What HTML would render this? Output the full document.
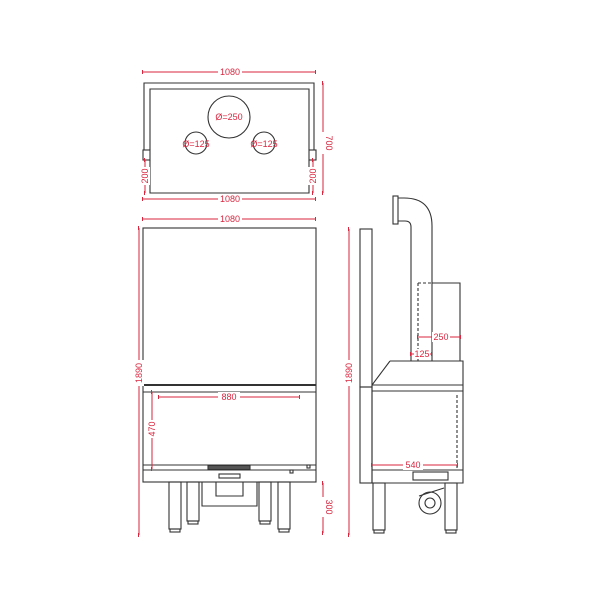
<!DOCTYPE html>
<html><head><style>body{margin:0;background:#fff}svg{display:block}</style></head><body>
<svg width="600" height="600" viewBox="0 0 600 600" xmlns="http://www.w3.org/2000/svg">
<defs><marker id="t" markerWidth="2" markerHeight="4" refX="1" refY="2"><rect x="0" y="0" width="1" height="4" fill="#d9263f"/></marker></defs>
<g fill="none" stroke="#333" stroke-width="1.1">
<!-- top view -->
<path d="M144 150 V83 H314 V150"/>
<path d="M150 150 V89 H309 V150"/>
<rect x="143" y="150" width="7" height="10"/><rect x="309" y="150" width="7" height="10"/>
<path d="M150 160 V193 H309 V160"/>
<circle cx="229" cy="117" r="21"/><circle cx="196" cy="143" r="11"/><circle cx="264" cy="143" r="11"/>
<!-- front view -->
<rect x="143" y="228" width="173" height="254"/>
<line x1="143" y1="385" x2="316" y2="385" stroke-width="2"/>
<line x1="143" y1="392" x2="316" y2="392"/>
<line x1="143" y1="465" x2="316" y2="465"/>
<line x1="143" y1="470" x2="316" y2="470"/>
<rect x="208" y="465.5" width="42" height="4" fill="#555"/>
<rect x="219" y="474" width="21" height="4"/>
<rect x="290" y="470" width="3" height="3"/><rect x="307" y="465" width="3" height="3"/>
<path d="M202 482 V506 H257 V482"/><path d="M216 482 V496 H243 V482"/>
<rect x="169" y="482" width="12" height="47"/><rect x="187" y="482" width="12" height="39"/>
<rect x="259" y="482" width="12" height="39"/><rect x="278" y="482" width="12" height="47"/>
<rect x="170" y="529" width="10" height="3"/><rect x="188" y="521" width="10" height="3"/>
<rect x="260" y="521" width="10" height="3"/><rect x="279" y="529" width="10" height="3"/>
<!-- side view -->
<rect x="360" y="229" width="12" height="158"/>
<path d="M390 361 H463 V483 H372 V385 L390 361"/>
<line x1="372" y1="385" x2="463" y2="385"/><line x1="372" y1="391" x2="463" y2="391"/>
<line x1="372" y1="470" x2="463" y2="470"/>
<line x1="457" y1="395" x2="457" y2="470" stroke-dasharray="3,2"/>
<rect x="413" y="472" width="35" height="8"/>
<rect x="360" y="387" width="12" height="96"/>
<rect x="373" y="483" width="12" height="47"/><rect x="445" y="483" width="12" height="47"/>
<rect x="374" y="530" width="10" height="3"/><rect x="446" y="530" width="10" height="3"/>
<circle cx="430" cy="503" r="11"/><circle cx="430" cy="503" r="5"/>
<path d="M419 496 L444 488"/>
<path d="M411 361 V227 Q411 221 405 221 H398"/>
<path d="M432 361 V226 Q432 198 404 198 H398"/>
<rect x="393" y="196" width="5" height="28"/>
<path d="M432 283 H460 V361"/>
<path d="M418 283 V361 M418 283 H432" stroke-dasharray="3,2"/>
</g>
<g stroke="#d9263f" stroke-width="1" marker-start="url(#t)" marker-end="url(#t)" fill="none">
<line x1="143" y1="72" x2="316" y2="72"/>
<line x1="323" y1="83" x2="323" y2="193"/>
<line x1="145" y1="160" x2="145" y2="193"/>
<line x1="313" y1="160" x2="313" y2="193"/>
<line x1="143" y1="199" x2="316" y2="199"/>
<line x1="143" y1="219" x2="316" y2="219"/>
<line x1="139" y1="228" x2="139" y2="535"/>
<line x1="159" y1="397" x2="300" y2="397"/>
<line x1="152" y1="392" x2="152" y2="469"/>
<line x1="323" y1="483" x2="323" y2="533"/>
<line x1="349" y1="229" x2="349" y2="535"/>
<line x1="418" y1="337" x2="461" y2="337"/>
<line x1="411" y1="354" x2="432" y2="354"/>
<line x1="372" y1="465" x2="458" y2="465"/>
</g>
<g fill="#d9263f" font-family="Liberation Sans, sans-serif" font-size="9" text-anchor="middle">
<g fill="#fff" stroke="none"><rect x="218" y="67" width="24" height="10"/><rect x="218" y="194" width="24" height="10"/><rect x="218" y="214" width="24" height="10"/><rect x="218" y="392" width="22" height="10"/><rect x="318" y="132" width="10" height="22"/><rect x="318" y="497" width="10" height="20"/><rect x="134" y="360" width="10" height="26"/><rect x="344" y="360" width="10" height="26"/><rect x="147" y="420" width="10" height="18"/><rect x="140" y="167" width="10" height="18"/><rect x="308" y="167" width="10" height="18"/><rect x="432" y="332" width="18" height="10"/><rect x="414" y="349" width="16" height="10"/><rect x="403" y="460" width="20" height="10"/></g>
<text x="230" y="75">1080</text><text x="230" y="202">1080</text><text x="230" y="222">1080</text>
<text x="229" y="400">880</text>
<text x="229" y="120">Ø=250</text><text x="196" y="147">Ø=125</text><text x="264" y="147">Ø=125</text>
<text x="441" y="340">250</text><text x="422" y="357">125</text><text x="413" y="468">540</text>
<text transform="translate(326,143) rotate(90)">700</text>
<text transform="translate(148,176) rotate(-90)">200</text>
<text transform="translate(316,176) rotate(-90)">200</text>
<text transform="translate(142,373) rotate(-90)">1890</text>
<text transform="translate(352,373) rotate(-90)">1890</text>
<text transform="translate(155,429) rotate(-90)">470</text>
<text transform="translate(326,507) rotate(90)">300</text>
</g>
</svg>
</body></html>
